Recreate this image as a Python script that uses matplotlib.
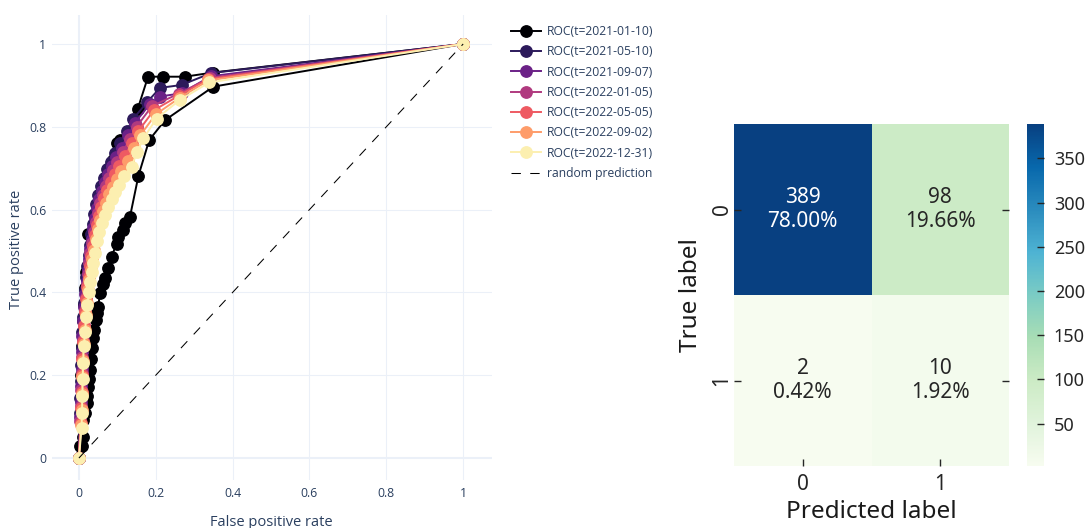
#!/usr/bin/env python

import matplotlib
matplotlib.use('Agg')
import matplotlib.pyplot as plt
import numpy as np
import seaborn as sns

OUT_FILE = 'out.png'
PLOTLY_FONT = ['Open Sans', 'DejaVu Sans']
HEAT_FONT = ['Noto Sans', 'DejaVu Sans']
TEXT_COLOR = '#2a3f5f'
GRID_COLOR = '#ebf0f8'

# ROC curves, one per date
labels = ['ROC(t=2021-01-10)', 'ROC(t=2021-05-10)', 'ROC(t=2021-09-07)',
          'ROC(t=2022-01-05)', 'ROC(t=2022-05-05)', 'ROC(t=2022-09-02)',
          'ROC(t=2022-12-31)']
colors = ['#000004', '#2c1a5b', '#6b2187', '#b03a7f', '#ee5a62', '#fe9c6a', '#fcefb0']

fpr_1 = [0, 0.003, 0.005, 0.006, 0.008, 0.010, 0.012, 0.015, 0.019, 0.024, 0.050,
         0.070, 0.090, 0.100, 0.107, 0.128, 0.153, 0.180, 0.218, 0.276, 0.348, 1]
tpr_1 = [0, 0.03, 0.10, 0.20, 0.27, 0.33, 0.37, 0.41, 0.45, 0.54, 0.615,
         0.67, 0.72, 0.76, 0.768, 0.768, 0.843, 0.921, 0.921, 0.921, 0.931, 1]

# second dark curve, lower right of the bundle
fpr_1b = [0, 0.007, 0.010, 0.011, 0.015, 0.020, 0.022, 0.024, 0.027, 0.029, 0.032,
          0.034, 0.037, 0.040, 0.044, 0.048, 0.050, 0.055, 0.062, 0.068, 0.076,
          0.085, 0.098, 0.102, 0.115, 0.120, 0.133, 0.155, 0.183, 0.224, 0.350, 1]
tpr_1b = [0, 0.03, 0.05, 0.092, 0.11, 0.133, 0.15, 0.172, 0.19, 0.213, 0.24,
          0.265, 0.29, 0.31, 0.333, 0.35, 0.365, 0.398, 0.42, 0.434, 0.46,
          0.486, 0.518, 0.535, 0.551, 0.567, 0.583, 0.682, 0.768, 0.816, 0.897, 1]

fpr_2 = [0, 0.003, 0.004, 0.005, 0.006, 0.007, 0.008, 0.010, 0.013, 0.016, 0.019,
         0.022, 0.025, 0.028, 0.032, 0.036, 0.040, 0.045, 0.051, 0.058, 0.066,
         0.074, 0.084, 0.095, 0.108, 0.124, 0.142, 0.178, 0.211, 0.267, 0.345, 1]
tpr_2 = [0, 0.11, 0.145, 0.185, 0.225, 0.265, 0.305, 0.34, 0.375, 0.407, 0.437,
         0.465, 0.49, 0.515, 0.54, 0.566, 0.59, 0.613, 0.635, 0.656, 0.677,
         0.697, 0.716, 0.737, 0.76, 0.79, 0.82, 0.86, 0.894, 0.901, 0.93, 1]

fpr_3 = [0, 0.004, 0.005, 0.006, 0.007, 0.008, 0.009, 0.011, 0.014, 0.017, 0.020,
         0.023, 0.026, 0.029, 0.033, 0.037, 0.042, 0.047, 0.053, 0.060, 0.068,
         0.076, 0.086, 0.097, 0.111, 0.128, 0.146, 0.185, 0.210, 0.267, 0.343, 1]
tpr_3 = [0, 0.10, 0.135, 0.175, 0.215, 0.255, 0.295, 0.33, 0.365, 0.397, 0.427,
         0.455, 0.48, 0.505, 0.53, 0.556, 0.58, 0.603, 0.625, 0.646, 0.667,
         0.687, 0.706, 0.727, 0.75, 0.78, 0.81, 0.855, 0.873, 0.881, 0.922, 1]

fpr_4 = [0, 0.004, 0.005, 0.006, 0.007, 0.008, 0.010, 0.012, 0.015, 0.018, 0.021,
         0.024, 0.027, 0.030, 0.034, 0.039, 0.044, 0.049, 0.055, 0.062, 0.070,
         0.079, 0.089, 0.100, 0.115, 0.132, 0.150, 0.190, 0.260, 0.340, 1]
tpr_4 = [0, 0.09, 0.125, 0.165, 0.205, 0.245, 0.285, 0.322, 0.357, 0.388, 0.418,
         0.445, 0.47, 0.495, 0.52, 0.546, 0.57, 0.593, 0.615, 0.636, 0.656,
         0.676, 0.695, 0.716, 0.74, 0.77, 0.80, 0.85, 0.88, 0.918, 1]

fpr_5 = [0, 0.005, 0.006, 0.007, 0.008, 0.009, 0.011, 0.013, 0.016, 0.019, 0.022,
         0.025, 0.028, 0.032, 0.036, 0.041, 0.046, 0.052, 0.058, 0.066, 0.074,
         0.083, 0.093, 0.105, 0.120, 0.137, 0.155, 0.195, 0.260, 0.336, 1]
tpr_5 = [0, 0.085, 0.12, 0.16, 0.20, 0.24, 0.28, 0.318, 0.352, 0.383, 0.412,
         0.438, 0.463, 0.488, 0.512, 0.538, 0.562, 0.585, 0.607, 0.628, 0.648,
         0.667, 0.686, 0.706, 0.73, 0.76, 0.79, 0.84, 0.875, 0.915, 1]

fpr_6 = [0, 0.006, 0.007, 0.008, 0.009, 0.010, 0.012, 0.015, 0.018, 0.021, 0.024,
         0.027, 0.031, 0.035, 0.039, 0.044, 0.049, 0.055, 0.062, 0.070, 0.079,
         0.088, 0.098, 0.110, 0.127, 0.143, 0.160, 0.200, 0.262, 0.337, 1]
tpr_6 = [0, 0.08, 0.115, 0.155, 0.195, 0.235, 0.275, 0.31, 0.345, 0.375, 0.405,
         0.43, 0.455, 0.48, 0.503, 0.53, 0.553, 0.575, 0.597, 0.617, 0.637,
         0.655, 0.673, 0.693, 0.718, 0.75, 0.78, 0.83, 0.87, 0.912, 1]

fpr_7 = [0, 0.007, 0.008, 0.009, 0.010, 0.011, 0.013, 0.016, 0.019, 0.022, 0.026,
         0.029, 0.033, 0.037, 0.041, 0.046, 0.052, 0.059, 0.067, 0.076, 0.085,
         0.094, 0.105, 0.118, 0.137, 0.152, 0.168, 0.202, 0.263, 0.339, 1]
tpr_7 = [0, 0.072, 0.11, 0.15, 0.19, 0.23, 0.27, 0.305, 0.34, 0.37, 0.40,
         0.425, 0.45, 0.47, 0.495, 0.523, 0.545, 0.567, 0.588, 0.607, 0.625,
         0.643, 0.66, 0.68, 0.704, 0.74, 0.772, 0.82, 0.865, 0.907, 1]

fprs = [fpr_1, fpr_2, fpr_3, fpr_4, fpr_5, fpr_6, fpr_7]
tprs = [tpr_1, tpr_2, tpr_3, tpr_4, tpr_5, tpr_6, tpr_7]

# confusion matrix
class_names = ['0', '1']
counts = [[389, 98],
          [2, 10]]
percents = [[78.00, 19.66],
            [0.42, 1.92]]


def px(x, y, w, h):
	# pixel box (top-left origin) -> figure fraction
	return [x / 1088, (528 - y - h) / 528, w / 1088, h / 528]


def draw_roc(fig):
	ax = fig.add_axes(px(52, 15, 440, 465))
	ax.set_xlim(-0.07, 1.075)
	ax.set_ylim(-0.053, 1.07)
	for spine in ax.spines.values():
		spine.set_visible(False)
	ticks = [0, 0.2, 0.4, 0.6, 0.8, 1]
	tick_text = ['0', '0.2', '0.4', '0.6', '0.8', '1']
	ax.set_xticks(ticks, tick_text)
	ax.set_yticks(ticks, tick_text)
	ax.tick_params(length=0, labelsize=8.8, labelcolor=TEXT_COLOR)
	ax.tick_params(axis='x', pad=5)
	ax.tick_params(axis='y', pad=4)
	for lab in ax.get_xticklabels() + ax.get_yticklabels():
		lab.set_family(PLOTLY_FONT)
	for t in ticks[1:]:
		ax.axvline(t, color=GRID_COLOR, lw=0.75, zorder=0)
		ax.axhline(t, color=GRID_COLOR, lw=0.75, zorder=0)
	ax.axvline(0, color=GRID_COLOR, lw=1.5, zorder=0)
	ax.axhline(0, color=GRID_COLOR, lw=1.5, zorder=0)

	ax.plot(fpr_1b, tpr_1b, color=colors[0], lw=1.4, marker='o', ms=8.2,
	        label='_nolegend_', zorder=2)
	for fpr, tpr, color, label in zip(fprs, tprs, colors, labels):
		ax.plot(fpr, tpr, color=color, lw=1.4, marker='o', ms=8.2,
		        label=label, zorder=2)
	ax.plot([0, 1], [0, 1], color='black', lw=0.75, dashes=(9, 9),
	        label='random prediction', zorder=3)

	fig.text(271 / 1088, (528 - 515) / 528, 'False positive rate', ha='center',
	         va='top', fontsize=10.5, color=TEXT_COLOR, family=PLOTLY_FONT)
	fig.text(17 / 1088, (528 - 249) / 528, 'True positive rate', ha='center',
	         va='center', rotation=90, fontsize=10.5, color=TEXT_COLOR,
	         family=PLOTLY_FONT)

	handles, names = ax.get_legend_handles_labels()
	leg = fig.legend(handles, names, loc='upper left',
	                 bbox_to_anchor=(505 / 1088, (528 - 19) / 528),
	                 frameon=False, handlelength=2.45,
	                 handletextpad=0.5, labelspacing=0.6, borderpad=0,
	                 prop={'family': PLOTLY_FONT, 'size': 8.7})
	for text in leg.get_texts():
		text.set_color(TEXT_COLOR)


def draw_confusion(fig):
	ax = fig.add_axes(px(734, 124, 275, 342))
	cax = fig.add_axes(px(1027, 124, 17, 342))
	annot = np.array([['%d\n%.2f%%' % (c, p) for c, p in zip(crow, prow)]
	                  for crow, prow in zip(counts, percents)])
	sns.heatmap(np.array(counts), annot=annot, fmt='', cmap='GnBu', ax=ax,
	            cbar_ax=cax, xticklabels=class_names, yticklabels=class_names,
	            annot_kws={'fontsize': 15, 'family': HEAT_FONT,
	                       'linespacing': 1.2})
	ax.tick_params(direction='in', length=5, width=1, labelsize=15,
	               colors='#262626')
	ax.tick_params(axis='y', right=True, pad=1)
	ax.tick_params(axis='x', pad=5.5)
	for lab in ax.get_xticklabels():
		lab.set_family(HEAT_FONT)
		lab.set_rotation(0)
	for lab in ax.get_yticklabels():
		lab.set_family(HEAT_FONT)
		lab.set_rotation(90)
		lab.set_va('center')
	ax.set_xlabel('Predicted label', fontsize=17.5, family=HEAT_FONT,
	              color='#1a1a1a', labelpad=4)
	ax.set_ylabel('True label', fontsize=17.5, family=HEAT_FONT,
	              color='#1a1a1a', labelpad=6)
	cax.tick_params(direction='in', length=5, width=1, labelsize=13,
	                colors='#262626', pad=7)
	for lab in cax.get_yticklabels():
		lab.set_family(HEAT_FONT)


def main():
	fig = plt.figure(figsize=(10.88, 5.28), dpi=100)
	draw_roc(fig)
	draw_confusion(fig)
	fig.savefig(OUT_FILE, dpi=100)


if __name__ == '__main__':
	main()
